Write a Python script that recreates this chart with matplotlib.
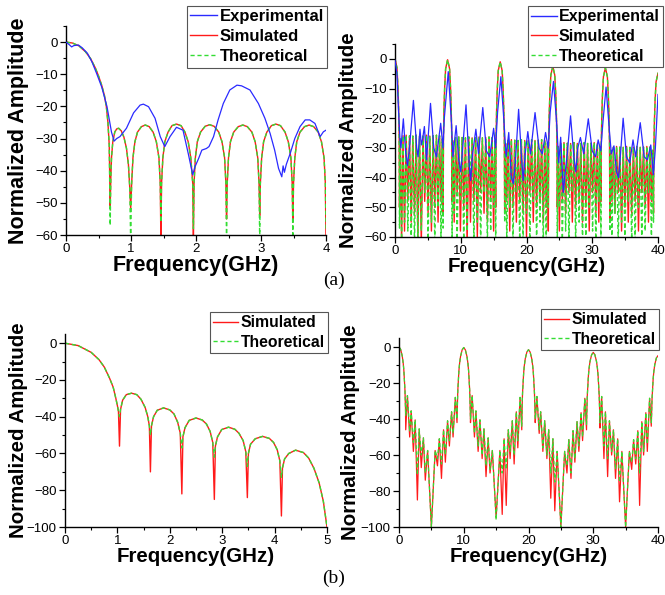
import numpy as np
import matplotlib.pyplot as plt
from matplotlib.lines import Line2D
from matplotlib.ticker import MultipleLocator

plt.rcParams['font.family'] = ['Liberation Sans', 'DejaVu Sans']

BLUE = '#2a2aff'
RED = '#ff1a1a'
GREEN = '#33dd33'
DASH = (0, (3, 2))

# ---------------- (a) left: 0-4 GHz ----------------
a1_body_f = [0, 0.1, 0.2, 0.3, 0.38, 0.45, 0.5, 0.55, 0.59, 0.62, 0.645, 0.665,
             0.69, 0.70, 0.72, 0.75, 0.78, 0.81, 0.85, 0.89, 0.93, 0.96, 0.98,
             1.01, 1.03, 1.06, 1.1, 1.16, 1.22, 1.28, 1.34, 1.39, 1.43, 1.45,
             1.47, 1.49, 1.52, 1.57, 1.63, 1.7, 1.77, 1.83, 1.88, 1.92, 1.95,
             1.97, 1.99, 2.02, 2.07, 2.14, 2.21, 2.28, 2.35, 2.4, 2.44, 2.46,
             2.48, 2.5, 2.53, 2.58, 2.65, 2.72, 2.79, 2.86, 2.91, 2.95, 2.97,
             2.99, 3.01, 3.04, 3.09, 3.16, 3.23, 3.3, 3.37, 3.42, 3.46, 3.48,
             3.5, 3.52, 3.55, 3.6, 3.67, 3.74, 3.81, 3.88, 3.93, 3.97, 3.99]
a1_body_db = [0, -0.3, -1.2, -3.0, -5.2, -8.0, -10.5, -13.5, -16.5, -20, -25, -32,
              -42, -36, -31, -28, -27, -26.8, -27.6, -29.5, -33, -38, -45,
              -44, -36, -31, -28, -26.3, -25.8, -26.3, -28, -31, -36, -44,
              -44, -36, -31, -28, -26, -25.5, -26, -28, -31, -36, -44,
              -44, -36, -31, -28, -26.2, -25.7, -26.2, -28, -31, -36, -44,
              -44, -36, -31, -28, -26.3, -25.8, -26.3, -28, -31, -36, -44,
              -44, -36, -31, -28, -26, -25.5, -26, -28, -31, -36, -44,
              -44, -36, -31, -28, -26.3, -25.8, -26.3, -28, -31, -36, -44]
a1_null_f = [0.68, 0.995, 1.46, 1.96, 2.47, 2.98, 3.49, 4.0]
a1_null_sim = [-51, -52, -62, -62, -55, -54, -56, -62]
a1_null_theo = [-57, -62, -56, -58, -62, -62, -62, -58]

a1_exp_f = [0, 0.05, 0.087, 0.12, 0.19, 0.25, 0.33, 0.4, 0.47, 0.55, 0.63, 0.7, 0.74,
            0.78, 0.83, 0.93, 1.04, 1.14, 1.19, 1.27, 1.37, 1.45, 1.52, 1.6, 1.7,
            1.8, 1.88, 1.95, 1.98, 2.04, 2.09, 2.16, 2.2, 2.27, 2.34, 2.42, 2.52,
            2.63, 2.7, 2.83, 2.96, 3.06, 3.14, 3.21, 3.27, 3.32, 3.34, 3.36, 3.39,
            3.45, 3.52, 3.6, 3.68, 3.75, 3.83, 3.91, 3.96, 4.0]
a1_exp_db = [0, -0.8, -1.5, -1.1, -0.9, -1.8, -3.5, -6.2, -9.7, -14, -20, -28, -30.8,
             -30, -29.4, -26.8, -22, -19.6, -19.3, -20.1, -23.7, -29.4, -32.5, -29.4, -26.5,
             -27.4, -34.6, -41.3, -39, -36.2, -33.6, -33.1, -32.5, -29.4, -24.2, -19.1, -14.9,
             -13.4, -13.6, -14.9, -19.1, -23.7, -28.4, -33.6, -39.3, -41.9, -38.5, -40.5, -38,
             -34.6, -30, -26.3, -24.2, -24.2, -25.3, -29.4, -27.9, -27.4]

# ---------------- (a) right: 0-40 GHz ----------------
a2_centers = [0, 8, 16, 24, 32, 40]
a2_main_peak = [0, -0.3, -1.0, -2.5, -3.0, -4.8]
a2_prof_off = [-0.63, -0.55, -0.45, -0.3, 0, 0.3, 0.45, 0.55, 0.63]
a2_prof_rel = [-26, -16.5, -9.5, -3, 0, -3, -9.5, -16.5, -26]
a2_null_off = [0.68, 1.0, 1.45, 1.95, 2.46, 2.97, 3.48, 4.0, 4.52, 5.03, 5.54, 6.05, 6.55, 7.0, 7.32]
a2_peak_off = [0.82, 1.22, 1.7, 2.21, 2.71, 3.22, 3.73, 4.26, 4.78, 5.29, 5.8, 6.3, 6.78, 7.18]
a2_peak_rel = [-1.3, -0.2, 0, -0.2, -0.3, 0, -0.3, -0.3, 0, -0.3, -0.2, 0, -0.2, -1.3]
a2_level = [-25.7, -26.3, -27.2, -28.2, -29.5]
a2_depth_theo = [[-57, -62, -55, -58, -62, -62, -62, -58, -45, -62, -55, -62, -50, -62, -57],
                 [-62, -52, -62, -48, -62, -58, -40, -62, -55, -62, -45, -62, -58, -50, -62],
                 [-55, -62, -50, -62, -45, -62, -62, -52, -62, -48, -62, -55, -62, -62, -50],
                 [-62, -50, -62, -58, -62, -45, -62, -55, -62, -62, -50, -58, -62, -48, -62],
                 [-58, -62, -52, -62, -55, -62, -48, -62, -62, -50, -62, -58, -45, -62, -55]]
a2_depth_sim = [[-50, -62, -58, -48, -55, -52, -60, -62, -48, -52, -58, -50, -55, -48, -52],
                [-48, -55, -45, -58, -50, -62, -55, -48, -60, -45, -52, -55, -48, -58, -50],
                [-52, -48, -58, -50, -55, -48, -52, -60, -45, -55, -50, -48, -55, -50, -58],
                [-50, -58, -48, -52, -45, -55, -50, -48, -55, -50, -58, -45, -52, -55, -48],
                [-55, -48, -52, -45, -58, -50, -55, -52, -48, -58, -45, -50, -55, -48, -52]]

a2_exp_f = [0, 0.3, 0.55, 0.75, 0.9, 1.27, 1.6, 1.9, 2.2, 2.8, 3.3, 3.5, 3.8, 4.0, 4.2,
            4.47, 4.8, 5.4, 5.9, 6.3, 6.95, 7.3, 7.5, 8.1, 8.6, 8.8, 9.3, 9.7, 10.0,
            10.3, 10.8, 11.3, 11.5, 11.8, 12.3, 12.7, 13.35, 13.9, 14.4, 15.0, 15.3,
            15.6, 16.1, 16.6, 16.9, 17.3, 17.7, 18.0, 18.3, 18.8, 19.3, 19.5, 19.8,
            20.2, 20.6, 21.3, 21.9, 22.4, 22.9, 23.3, 23.6, 24.1, 24.6, 24.9, 25.2,
            25.6, 25.9, 26.2, 26.7, 27.2, 27.5, 27.8, 28.2, 28.7, 29.4, 30.0, 30.5,
            30.9, 31.3, 31.6, 32.1, 32.6, 32.9, 33.3, 33.7, 34.0, 34.3, 34.7, 35.2,
            35.7, 36.2, 36.6, 37.3, 37.9, 38.4, 38.9, 39.3, 39.6, 40.0]
a2_exp_db = [-0.5, -5, -18, -27, -30, -20.2, -31, -36, -30, -14, -30, -33, -23.7, -29, -27,
             -22.8, -34, -15, -30, -33, -21.7, -30, -20, -4.3, -22, -33, -22.5, -34, -38,
             -30, -15.5, -36, -41, -32, -23.7, -32, -16.4, -31, -33, -23.4, -30,
             -18, -6, -22, -33, -24.8, -40, -42, -35, -17, -35, -41, -32,
             -24.5, -32, -18.1, -30, -32, -24.8, -30, -18, -7.6, -22, -35, -26.4,
             -45, -38, -32, -19.2, -33, -38, -30, -26.5, -32, -20.2, -31, -33,
             -27.3, -31, -22, -9.5, -24, -32, -29.3, -38, -40, -32, -20, -33,
             -35, -27.3, -33, -21.5, -33, -34, -29, -39, -30, -12]

# ---------------- (b) left: 0-5 GHz ----------------
b1_body_f = [0, 0.25, 0.5, 0.65, 0.75, 0.85, 0.92, 0.97, 1.0, 1.02,
             1.06, 1.1, 1.17, 1.27, 1.37, 1.45, 1.53, 1.58, 1.61,
             1.65, 1.69, 1.76, 1.88, 2.0, 2.08, 2.15, 2.2,
             2.25, 2.29, 2.37, 2.5, 2.62, 2.7, 2.77, 2.82,
             2.87, 2.91, 2.99, 3.12, 3.24, 3.32, 3.4, 3.45,
             3.5, 3.54, 3.63, 3.77, 3.9, 3.98, 4.05, 4.1,
             4.15, 4.19, 4.27, 4.4, 4.55, 4.65, 4.75, 4.85, 4.93, 5.0]
b1_body_db = [0, -1.3, -5, -9, -13, -19, -24, -30, -34, -37,
              -36, -31, -28, -27.2, -28, -30.5, -35, -40, -45,
              -45, -40, -36.5, -35.2, -36.3, -38.5, -43, -49,
              -51, -46, -42, -40.7, -41.8, -44, -48, -54,
              -56, -51, -47, -45.7, -46.8, -49, -53, -59,
              -60, -55, -52, -50.7, -51.8, -54, -58, -64,
              -68, -63, -60, -58.2, -59.5, -62.5, -68, -76, -86, -100]
b1_null_f = [1.04, 1.63, 2.23, 2.85, 3.48, 4.13]
b1_null_sim = [-56, -70, -82, -85, -84, -94]
b1_null_theo = [-40, -50, -57, -62, -67, -73]

# ---------------- (b) right: 0-40 GHz ----------------
b2_centers = [0, 10, 20, 30, 40]
b2_main_peak = [0, -0.3, -1.5, -3.0, -4.8]
b2_prof_off = [-1.0, -0.97, -0.92, -0.85, -0.75, -0.65, -0.5, -0.25, 0,
               0.25, 0.5, 0.65, 0.75, 0.85, 0.92, 0.97, 1.0]
b2_prof_rel = [-34, -30, -24, -19, -13, -9, -5, -1.3, 0,
               -1.3, -5, -9, -13, -19, -24, -30, -34]
b2_null_off = [1.04, 1.65, 2.22, 2.84, 3.44, 4.06, 5.0, 5.94, 6.56, 7.16, 7.78, 8.35, 8.96]
b2_peak_off = [1.3, 1.88, 2.5, 3.12, 3.77, 4.42, 5.58, 6.23, 6.88, 7.5, 8.12, 8.7]
b2_peak_rel = [-27, -35.5, -40.5, -45.5, -50.5, -57.5, -57.5, -51, -46, -41, -36, -28]
b2_level = [0, 0, -0.5, -0.5]
b2_depth_sim = [[-46, -50, -58, -85, -67, -74, -100, -66, -73, -64, -55, -50, -42],
                [-42, -50, -58, -62, -72, -70, -95, -93, -88, -62, -65, -56, -46],
                [-42, -48, -58, -62, -84, -91, -100, -70, -73, -64, -58, -52, -46],
                [-45, -62, -72, -60, -73, -86, -100, -68, -65, -88, -60, -58, -44]]
b2_depth_theo = [[-38, -47, -53, -71, -60, -70, -100, -62, -65, -60, -52, -48, -40],
                 [-40, -48, -55, -60, -66, -68, -96, -70, -68, -58, -60, -52, -44],
                 [-40, -46, -56, -60, -70, -75, -100, -66, -70, -62, -55, -50, -43],
                 [-42, -55, -62, -58, -68, -75, -100, -64, -62, -70, -58, -54, -42]]


def merge(f1, v1, f2, v2):
    f = np.concatenate([f1, f2])
    v = np.concatenate([v1, v2])
    idx = np.argsort(f, kind='stable')
    return f[idx], v[idx]


def build_dense(centers, main_peak, prof_off, prof_rel, null_off, peak_off,
                peak_rel, level, depth):
    f, v = [], []
    for k, c in enumerate(centers):
        f += [c + o for o in prof_off]
        v += [main_peak[k] + r for r in prof_rel]
        if k < len(centers) - 1:
            for j, o in enumerate(null_off):
                f.append(c + o)
                v.append(depth[k][j])
                if j < len(peak_off):
                    f.append(c + peak_off[j])
                    v.append(level[k] + peak_rel[j])
    return np.array(f), np.array(v)


def style(ax, xlim, ylim, xmaj, xmin, ymaj, ymin, lab_size, ylab_x):
    ax.set_xlim(*xlim)
    ax.set_ylim(*ylim)
    ax.xaxis.set_major_locator(MultipleLocator(xmaj))
    ax.xaxis.set_minor_locator(MultipleLocator(xmin))
    ax.yaxis.set_major_locator(MultipleLocator(ymaj))
    ax.yaxis.set_minor_locator(MultipleLocator(ymin))
    for s in ['top', 'right']:
        ax.spines[s].set_visible(False)
    for s in ['left', 'bottom']:
        ax.spines[s].set_linewidth(1.0)
    ax.tick_params(which='major', direction='out', length=4, width=0.9,
                   labelsize=9.5, pad=2)
    ax.tick_params(which='minor', direction='out', length=2.5, width=0.8)
    ax.set_xlabel('Frequency(GHz)', fontsize=lab_size, fontweight='bold', labelpad=0)
    ax.set_ylabel('Normalized Amplitude', fontsize=lab_size, fontweight='bold')
    ax.yaxis.set_label_coords(ylab_x, 0.5)


def add_legend(ax, fig, handles, labels, anchor, size):
    leg = ax.legend(handles, labels, loc='upper right', bbox_to_anchor=anchor,
                    bbox_transform=fig.transFigure, borderaxespad=0,
                    fancybox=False, framealpha=1, edgecolor='#555555',
                    borderpad=0.2, labelspacing=0.3, handlelength=1.6,
                    handletextpad=0.15, prop={'weight': 'bold', 'size': size})
    leg.get_frame().set_linewidth(0.8)


h_exp = Line2D([], [], color=BLUE, lw=1)
h_sim = Line2D([], [], color=RED, lw=1)
h_theo = Line2D([], [], color=GREEN, lw=1, linestyle=DASH)

fig = plt.figure(figsize=(6.65, 5.95), dpi=100)
W, H = 665, 595


def axes_px(x0, x1, ytop, ybot):
    return fig.add_axes([x0 / W, 1 - ybot / H, (x1 - x0) / W, (ybot - ytop) / H])


# (a) left
ax = axes_px(66, 326, 26, 235)
f, v = merge(a1_body_f, a1_body_db, a1_null_f, a1_null_sim)
ax.plot(f, v, color=RED, lw=1)
f, v = merge(a1_body_f, a1_body_db, a1_null_f, a1_null_theo)
ax.plot(f, v, color=GREEN, lw=1, linestyle=DASH)
ax.plot(a1_exp_f, a1_exp_db, color=BLUE, lw=0.9, zorder=3)
style(ax, (0, 4), (-60, 5), 1, 0.5, 10, 5, 15.5, (29 - 66) / 260)
add_legend(ax, fig, [h_exp, h_sim, h_theo], ['Experimental', 'Simulated', 'Theoretical'],
           (327 / W, 1 - 6 / H), 12)

# (a) right
ax = axes_px(395, 658, 44, 237)
f, v = build_dense(a2_centers, a2_main_peak, a2_prof_off, a2_prof_rel, a2_null_off,
                   a2_peak_off, a2_peak_rel, a2_level, a2_depth_sim)
ax.plot(f, v, color=RED, lw=1.0)
f, v = build_dense(a2_centers, a2_main_peak, a2_prof_off, a2_prof_rel, a2_null_off,
                   a2_peak_off, a2_peak_rel, a2_level, a2_depth_theo)
ax.plot(f, v, color=GREEN, lw=1.0, linestyle=DASH)
ax.plot(a2_exp_f, a2_exp_db, color=BLUE, lw=0.9, zorder=3)
style(ax, (0, 40), (-60, 5), 10, 5, 10, 5, 14.8, (358 - 395) / 263)
add_legend(ax, fig, [h_exp, h_sim, h_theo], ['Experimental', 'Simulated', 'Theoretical'],
           (663 / W, 1 - 6 / H), 11.5)

# (b) left
ax = axes_px(65, 327, 334, 527)
f, v = merge(b1_body_f, b1_body_db, b1_null_f, b1_null_sim)
ax.plot(f, v, color=RED, lw=1)
f, v = merge(b1_body_f, b1_body_db, b1_null_f, b1_null_theo)
ax.plot(f, v, color=GREEN, lw=1, linestyle=DASH)
style(ax, (0, 5), (-100, 5), 1, 0.5, 20, 10, 14.8, (28 - 65) / 262)
add_legend(ax, fig, [h_sim, h_theo], ['Simulated', 'Theoretical'],
           (328 / W, 1 - 312 / H), 11.3)

# (b) right
ax = axes_px(399, 658, 338, 527)
f, v = build_dense(b2_centers, b2_main_peak, b2_prof_off, b2_prof_rel, b2_null_off,
                   b2_peak_off, b2_peak_rel, b2_level, b2_depth_sim)
ax.plot(f, v, color=RED, lw=0.9)
f, v = build_dense(b2_centers, b2_main_peak, b2_prof_off, b2_prof_rel, b2_null_off,
                   b2_peak_off, b2_peak_rel, b2_level, b2_depth_theo)
ax.plot(f, v, color=GREEN, lw=0.9, linestyle=DASH)
style(ax, (0, 40), (-100, 5), 10, 5, 20, 10, 14.8, (360 - 399) / 259)
add_legend(ax, fig, [h_sim, h_theo], ['Simulated', 'Theoretical'],
           (659 / W, 1 - 309 / H), 11.3)

fig.text(334 / W, 1 - 280 / H, '(a)', family='Liberation Serif', fontsize=14,
         ha='center', va='center')
fig.text(334 / W, 1 - 578 / H, '(b)', family='Liberation Serif', fontsize=14,
         ha='center', va='center')

fig.savefig('out.png', dpi=100)
